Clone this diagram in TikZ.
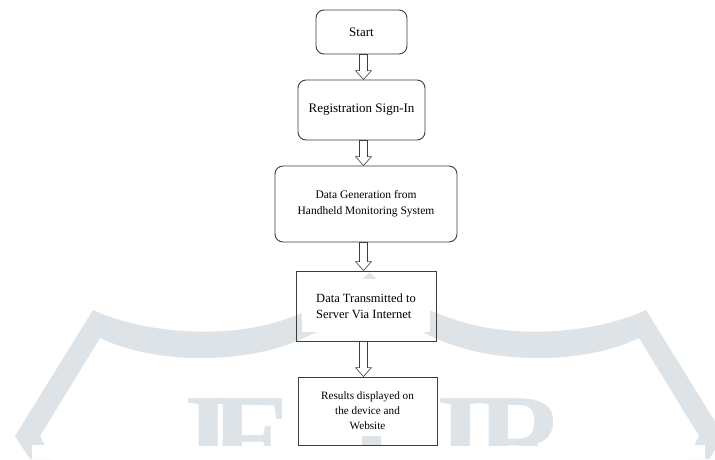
\documentclass[tikz,border=0pt]{standalone}
\usepackage{fontspec}
\setmainfont{Liberation Serif}
\usetikzlibrary{calc}

\definecolor{wmgray}{RGB}{221,227,231}
\definecolor{boxline}{RGB}{60,60,60}

\tikzset{
  flowbox/.style={draw=boxline, line width=0.9pt, inner sep=0pt, align=center,
    path picture={\fill[white] ([shift={(6pt,-8pt)}]path picture bounding box.north west)
      rectangle ([shift={(-6pt,9pt)}]path picture bounding box.south east);}},
  roundbox/.style={flowbox, rounded corners=8pt},
  hollow/.style={draw=boxline, fill=white, line width=0.6pt},
  wmletter/.style={text=wmgray, inner sep=0pt, anchor=base,
    font=\fontsize{125}{125}\selectfont\bfseries},
}

% left half of the watermark arch
\newcommand{\wmhalf}{%
  \fill[wmgray] (30,459) -- (15,436) -- (93,310)
    .. controls (140,332) and (220,340) .. (280,321)
    .. controls (320,308) and (350,292) .. (370,272)
    -- (370,298)
    .. controls (330,325) and (290,358) .. (200,358)
    .. controls (160,358) and (125,350) .. (100,338)
    -- (40,436) -- (52,459) -- cycle;}

% hollow block arrow between two boxes, on the common axis
\newcommand{\hollowarrow}[2]{%
  \draw[hollow] ($(axis |- #1.south)+(-4,0)$) -- ($(axis |- #2.north)+(-4,-9)$)
    -- ($(axis |- #2.north)+(-8,-9)$) -- (axis |- #2.north)
    -- ($(axis |- #2.north)+(8,-9)$) -- ($(axis |- #2.north)+(4,-9)$)
    -- ($(axis |- #1.south)+(4,0)$) -- cycle;}

\begin{document}
\begin{tikzpicture}[x=1pt, y=-1pt]
  \useasboundingbox (0,0) rectangle (715,459);
  % watermark
  \wmhalf
  \begin{scope}[xshift=739pt, xscale=-1]
    \wmhalf
  \end{scope}
  \fill[white] (32,445) rectangle (705,459);
  \begin{scope}
    \clip (0,0) rectangle (715,445);
    \foreach \ch/\cx in {J/200, E/252, T/372, I/461, R/522}
      \node[wmletter] (wm\ch) at (\cx,480) {\ch};
  \end{scope}
  % flow chart
  \coordinate (axis) at (363.5,0);
  \node[roundbox, minimum width=91pt, minimum height=44pt,
    font=\fontsize{13}{15}\selectfont] (start) at (361.5,32) {Start};
  \node[roundbox, minimum width=127pt, minimum height=60pt,
    font=\fontsize{13}{15}\selectfont] (reg) at (361.5,110) {Registration Sign-In};
  \node[roundbox, minimum width=182pt, minimum height=76pt,
    font=\fontsize{11.5}{16}\selectfont] (gen) at (366,204)
    {Data Generation from\\Handheld Monitoring System};
  \node[flowbox, minimum width=140pt, minimum height=70pt, align=left,
    font=\fontsize{12.5}{16}\selectfont] (trans) at (366,306)
    {Data Transmitted to\\Server Via Internet};
  \node[flowbox, minimum width=139pt, minimum height=68pt,
    font=\fontsize{11.2}{15}\selectfont] (res) at (367.5,411)
    {Results displayed on\\the device and\\Website};
  % connectors
  \hollowarrow{start}{reg}
  \hollowarrow{reg}{gen}
  \hollowarrow{gen}{trans}
  \hollowarrow{trans}{res}
\end{tikzpicture}
\end{document}
